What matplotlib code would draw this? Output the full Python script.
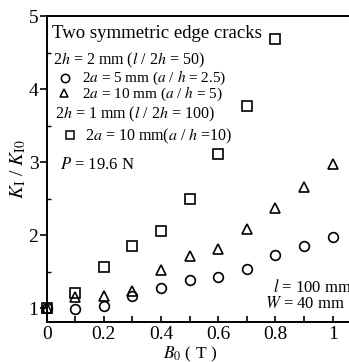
import matplotlib
matplotlib.use('Agg')
import matplotlib.pyplot as plt

plt.rcParams['font.family'] = ['Liberation Serif', 'DejaVu Serif']
plt.rcParams['mathtext.fontset'] = 'stix'

# magnetic field B0 (T)
b0 = [0, 0.1, 0.2, 0.3, 0.4, 0.5, 0.6, 0.7, 0.8, 0.9, 1.0]
b0_sq = [0, 0.1, 0.2, 0.3, 0.4, 0.5, 0.6, 0.7, 0.8]

# normalised stress intensity factor K_I / K_I0
k_circle = [1.0, 0.99, 1.03, 1.16, 1.27, 1.39, 1.42, 1.54, 1.73, 1.85, 1.97]    # 2a=5mm, 2h=2mm
k_triangle = [1.0, 1.15, 1.17, 1.24, 1.52, 1.71, 1.81, 2.08, 2.37, 2.66, 2.98]  # 2a=10mm, 2h=2mm
k_square = [1.0, 1.21, 1.56, 1.85, 2.06, 2.49, 3.11, 3.77, 4.68]                # 2a=10mm, 2h=1mm

fig = plt.figure(figsize=(3.49, 3.62), dpi=100)
ax = fig.add_axes([0.1338, 0.1105, 0.9014, 0.8453])

mk = dict(linestyle='none', markerfacecolor='none', markeredgecolor='black',
          markeredgewidth=1.2, clip_on=False, zorder=3)
ax.plot(b0, k_triangle, marker='^', markersize=7, **mk)
ax.plot(b0_sq, k_square, marker='s', markersize=7, **mk)
ax.plot(b0, k_circle, marker='o', markersize=7, **mk)

ax.set_xlim(0, 1.1)
ax.set_ylim(0.81, 5)
ax.set_xticks([0, 0.2, 0.4, 0.6, 0.8, 1.0])
ax.set_xticklabels(['0', '0.2', '0.4', '0.6', '0.8', '1'])
ax.set_xticks([0.1, 0.3, 0.5, 0.7, 0.9], minor=True)
ax.set_yticks([1, 2, 3, 4, 5])
ax.set_yticks([1.5, 2.5, 3.5, 4.5], minor=True)

ax.spines['right'].set_visible(False)
for s in ['left', 'top', 'bottom']:
    ax.spines[s].set_linewidth(1.4)

ax.tick_params(axis='y', which='major', direction='out', length=5, width=1.2,
               labelsize=14, pad=1)
ax.tick_params(axis='y', which='minor', direction='in', length=3, width=1.0)
ax.tick_params(axis='x', which='both', direction='in', length=4, width=1.2,
               labelsize=14, pad=3)

ax.set_xlabel(r'$B_0$ ( T )', fontsize=12.5)
ax.xaxis.set_label_coords(0.455, -0.074)
ax.set_ylabel(r'$K_{\rm I}$ / $K_{\rm I0}$', fontsize=14)
ax.yaxis.set_label_coords(-0.058, 0.5)

# annotation block
tx = dict(transform=ax.transAxes, va='center', ha='left')
ax.text(0.016, 0.944, 'Two symmetric edge cracks', fontsize=13.5, **tx)
ax.text(0.019, 0.856, r'2$h$ = 2 mm ($l$ / 2$h$ = 50)', fontsize=11.5, **tx)
ax.text(0.111, 0.797, r'2$a$ = 5 mm ($a$ / $h$ = 2.5)', fontsize=11, **tx)
ax.text(0.111, 0.746, r'2$a$ = 10 mm ($a$ / $h$ = 5)', fontsize=11, **tx)
ax.text(0.025, 0.680, r'2$h$ = 1 mm ($l$ / 2$h$ = 100)', fontsize=11.5, **tx)
ax.text(0.121, 0.608, r'2$a$ = 10 mm($a$ / $h$ =10)', fontsize=11.5, **tx)
ax.text(0.041, 0.513, r'$P$ = 19.6 N', fontsize=12, **tx)
ax.text(0.718, 0.114, r'$l$ = 100 mm', fontsize=12, **tx)
ax.text(0.693, 0.059, r'$W$ = 40 mm', fontsize=12, **tx)

key = dict(linestyle='none', markerfacecolor='none', markeredgecolor='black',
           markeredgewidth=1.1, markersize=6, transform=ax.transAxes)
ax.plot([0.057], [0.799], marker='o', **key)
ax.plot([0.054], [0.748], marker='^', **key)
ax.plot([0.073], [0.610], marker='s', **key)

fig.savefig('out.png', dpi=100)
